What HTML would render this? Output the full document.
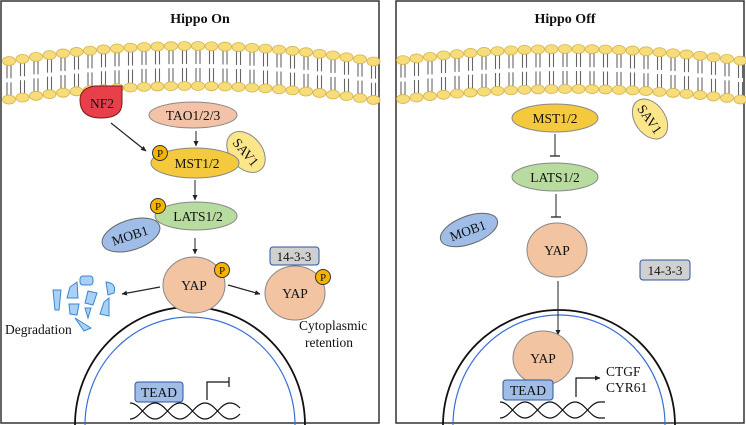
<!DOCTYPE html>
<html><head><meta charset="utf-8"><style>
html,body{margin:0;padding:0;background:#fff;}
svg{display:block;}
text{font-family:"Liberation Serif",serif;fill:#111;}
</style></head><body>
<svg id="s" width="746" height="425" viewBox="0 0 746 425" xmlns="http://www.w3.org/2000/svg">
<defs>
<marker id="ar" markerWidth="6" markerHeight="6" refX="5" refY="3" orient="auto" markerUnits="userSpaceOnUse"><path d="M0,0.5 L5.5,3 L0,5.5 z" fill="#222"/></marker>
</defs>
<rect x="1" y="1" width="378" height="422" fill="#fff" stroke="#333" stroke-width="1.5"/>
<rect x="396" y="1" width="348" height="422" fill="#fff" stroke="#333" stroke-width="1.5"/>
<text x="200" y="23" font-size="14" text-anchor="middle" font-weight="bold">Hippo On</text>
<text x="565" y="23" font-size="14" text-anchor="middle" font-weight="bold">Hippo Off</text>
<g id="mem"></g>

<!-- LEFT nucleus -->
<path d="M75,425 A115,118 0 0 1 305,425" fill="none" stroke="#111" stroke-width="1.8"/>
<path d="M85,425 A105,108 0 0 1 295,425" fill="none" stroke="#3a6fd8" stroke-width="1.2"/>
<!-- NF2 -->
<path d="M80,100 Q80,88 95,86 L122,86 L122,103 Q122,118 101,118 Q80,118 80,100 z" fill="#e8404a" stroke="#7a1a1a" stroke-width="1"/>
<text x="102" y="108" font-size="13.5" text-anchor="middle">NF2</text>
<line x1="111" y1="123" x2="146" y2="151" stroke="#222" stroke-width="1.2" marker-end="url(#ar)"/>
<ellipse cx="193" cy="115" rx="44" ry="13" fill="#f4c2a6" stroke="#888"/>
<text x="193" y="120" font-size="13.5" text-anchor="middle">TAO1/2/3</text>
<line x1="196" y1="131" x2="196" y2="146" stroke="#222" stroke-width="1" marker-end="url(#ar)"/>
<ellipse cx="246" cy="152" rx="23" ry="16" transform="rotate(50 246 152)" fill="#fbe78a" stroke="#888"/>
<text x="246" y="157" font-size="13.5" text-anchor="middle" transform="rotate(50 246 152)">SAV1</text>
<ellipse cx="195" cy="163" rx="44" ry="15" fill="#f5c93e" stroke="#888"/>
<text x="197" y="168" font-size="13.5" text-anchor="middle">MST1/2</text>
<circle cx="160" cy="153" r="7.5" fill="#f5b400" stroke="#333"/><text x="160" y="157" font-size="11" text-anchor="middle">P</text>
<line x1="195" y1="180" x2="195" y2="200" stroke="#222" stroke-width="1" marker-end="url(#ar)"/>
<ellipse cx="196" cy="216" rx="41" ry="14" fill="#b8dca0" stroke="#888"/>
<text x="198" y="221" font-size="13.5" text-anchor="middle">LATS1/2</text>
<circle cx="158" cy="206" r="7.5" fill="#f5b400" stroke="#333"/><text x="158" y="210" font-size="11" text-anchor="middle">P</text>
<ellipse cx="131" cy="235" rx="30" ry="15" transform="rotate(-18 131 235)" fill="#9fbde6" stroke="#666"/>
<text x="131" y="240" font-size="13.5" text-anchor="middle" transform="rotate(-18 131 239)">MOB1</text>
<line x1="195" y1="238" x2="195" y2="254" stroke="#222" stroke-width="1" marker-end="url(#ar)"/>
<ellipse cx="194" cy="285" rx="31" ry="28" fill="#f2c4a2" stroke="#888"/>
<text x="194" y="290" font-size="13.5" text-anchor="middle">YAP</text>
<circle cx="222" cy="270" r="7.5" fill="#f5b400" stroke="#333"/><text x="222" y="274" font-size="11" text-anchor="middle">P</text>
<line x1="160" y1="287" x2="122" y2="294" stroke="#222" stroke-width="1.2" marker-end="url(#ar)"/>
<line x1="228" y1="285" x2="260" y2="294" stroke="#222" stroke-width="1.2" marker-end="url(#ar)"/>
<rect x="270" y="247" width="49" height="18" rx="3" fill="#d0d0d0" stroke="#2c55a0"/>
<text x="294" y="261" font-size="13" text-anchor="middle">14-3-3</text>
<ellipse cx="295" cy="293" rx="30" ry="27" fill="#f2c4a2" stroke="#888"/>
<text x="295" y="298" font-size="13.5" text-anchor="middle">YAP</text>
<circle cx="323" cy="277" r="7.5" fill="#f5b400" stroke="#333"/><text x="323" y="281" font-size="11" text-anchor="middle">P</text>
<text x="5" y="334" font-size="13.5">Degradation</text>
<text x="299" y="330" font-size="13.5">Cytoplasmic</text>
<text x="305" y="347" font-size="13.5">retention</text>
<g fill="#a9d0f5" stroke="#3a86d0" stroke-width="1">
<path d="M53,290 L61,290 L59,310 L55,310 z"/>
<path d="M70,287 L77,282 L78,298 L67,298 z"/>
<rect x="80" y="276" width="13" height="9" rx="3"/>
<path d="M88,291 L97,293 L93,305 L85,303 z"/>
<path d="M106,282 Q117,283 114,293 L108,295 z"/>
<path d="M69,304 L79,304 L77,315 L70,314 z"/>
<path d="M85,308 L91,308 L88,318 z"/>
<path d="M104,302 L109,298 L109,316 L100,314 z"/>
<path d="M75,318 L91,328 L84,331 z"/>
</g>
<rect x="135" y="382" width="48" height="20" rx="3" fill="#9fbde6" stroke="#2c55a0"/>
<text x="159" y="397" font-size="13.5" text-anchor="middle">TEAD</text>
<path d="M207,400 L207,382 L229,382" fill="none" stroke="#111" stroke-width="1.2"/>
<line x1="229" y1="377" x2="229" y2="387" stroke="#111" stroke-width="1.2"/>
<path d="M130,403 C140,403 145,419 155,419 C165,419 170,403 180,403 C190,403 195,419 205,419 C215,419 220,403 230,403 C235,403 238,406 240,408 M130,419 C140,419 145,403 155,403 C165,403 170,419 180,419 C190,419 195,403 205,403 C215,403 220,419 230,419 C235,419 238,416 240,414" fill="none" stroke="#111" stroke-width="1.2"/>

<!-- RIGHT -->
<path d="M443,425 A116,115 0 0 1 675,425" fill="none" stroke="#111" stroke-width="1.8"/>
<path d="M453,425 A106,110 0 0 1 665,425" fill="none" stroke="#3a6fd8" stroke-width="1.2"/>
<ellipse cx="555" cy="118" rx="43" ry="14" fill="#f5c93e" stroke="#888"/>
<text x="555" y="123" font-size="13.5" text-anchor="middle">MST1/2</text>
<ellipse cx="650" cy="119" rx="22" ry="15" transform="rotate(55 650 119)" fill="#fbe78a" stroke="#888"/>
<text x="650" y="124" font-size="13.5" text-anchor="middle" transform="rotate(55 650 119)">SAV1</text>
<line x1="555" y1="134" x2="555" y2="156" stroke="#222" stroke-width="1"/>
<line x1="550" y1="156" x2="560" y2="156" stroke="#222" stroke-width="1.3"/>
<ellipse cx="555" cy="177" rx="43" ry="14" fill="#b8dca0" stroke="#888"/>
<text x="555" y="182" font-size="13.5" text-anchor="middle">LATS1/2</text>
<line x1="556" y1="194" x2="556" y2="217" stroke="#222" stroke-width="1"/>
<line x1="551" y1="217" x2="561" y2="217" stroke="#222" stroke-width="1.3"/>
<ellipse cx="469" cy="230" rx="30" ry="14" transform="rotate(-20 469 230)" fill="#9fbde6" stroke="#666"/>
<text x="469" y="235" font-size="13.5" text-anchor="middle" transform="rotate(-20 469 234)">MOB1</text>
<ellipse cx="557" cy="250" rx="30" ry="27" fill="#f2c4a2" stroke="#888"/>
<text x="557" y="255" font-size="13.5" text-anchor="middle">YAP</text>
<rect x="640" y="260" width="50" height="20" rx="3" fill="#d0d0d0" stroke="#2c55a0"/>
<text x="665" y="275" font-size="13" text-anchor="middle">14-3-3</text>
<line x1="558" y1="281" x2="558" y2="335" stroke="#222" stroke-width="1" marker-end="url(#ar)"/>
<ellipse cx="543" cy="358" rx="30" ry="27" fill="#f2c4a2" stroke="#888"/>
<text x="543" y="363" font-size="13.5" text-anchor="middle">YAP</text>
<rect x="503" y="380" width="50" height="20" rx="3" fill="#9fbde6" stroke="#2c55a0"/>
<text x="528" y="395" font-size="13.5" text-anchor="middle">TEAD</text>
<path d="M576,397 L576,378 L600,378" fill="none" stroke="#111" stroke-width="1.2" marker-end="url(#ar)"/>
<text x="606" y="376" font-size="13.5">CTGF</text>
<text x="606" y="392" font-size="13.5">CYR61</text>
<path d="M500,402 C510,402 515,418 525,418 C535,418 540,402 550,402 C560,402 565,418 575,418 C585,418 590,402 600,402 L605,402 M500,418 C510,418 515,402 525,402 C535,402 540,418 550,418 C560,418 565,402 575,402 C585,402 590,418 600,418 L605,418" fill="none" stroke="#111" stroke-width="1.2"/>
</svg>
<script>
(function(){
var g=document.getElementById('mem'),h='';
function row(x0,x1,xc,top,k){
 for(var x=x0;x<=x1;x+=13.5){
  var d=k*(x-xc)*(x-xc);var yt=top+d, yb=top+40+d*0.9;
  var ym=(yt+yb)/2;
  [-2,2].forEach(function(o){
   h+='<line x1="'+(x+o)+'" y1="'+(yt+4)+'" x2="'+(x+o)+'" y2="'+(ym-2)+'" stroke="#666" stroke-width="1.1"/>';
   h+='<line x1="'+(x+o)+'" y1="'+(ym+2)+'" x2="'+(x+o)+'" y2="'+(yb-4)+'" stroke="#666" stroke-width="1.1"/>';
  });
  h+='<ellipse cx="'+x+'" cy="'+yt+'" rx="6.5" ry="4.5" fill="#f7dc7a" stroke="#d4b24a" stroke-width="0.8"/>';
  h+='<ellipse cx="'+x+'" cy="'+yb+'" rx="6.5" ry="4.5" fill="#f7dc7a" stroke="#d4b24a" stroke-width="0.8"/>';
 }
}
row(9,376,190,46,0.00046);
row(403,742,570,49,0.0004);
g.innerHTML=h;
})();
</script>
</body></html>
